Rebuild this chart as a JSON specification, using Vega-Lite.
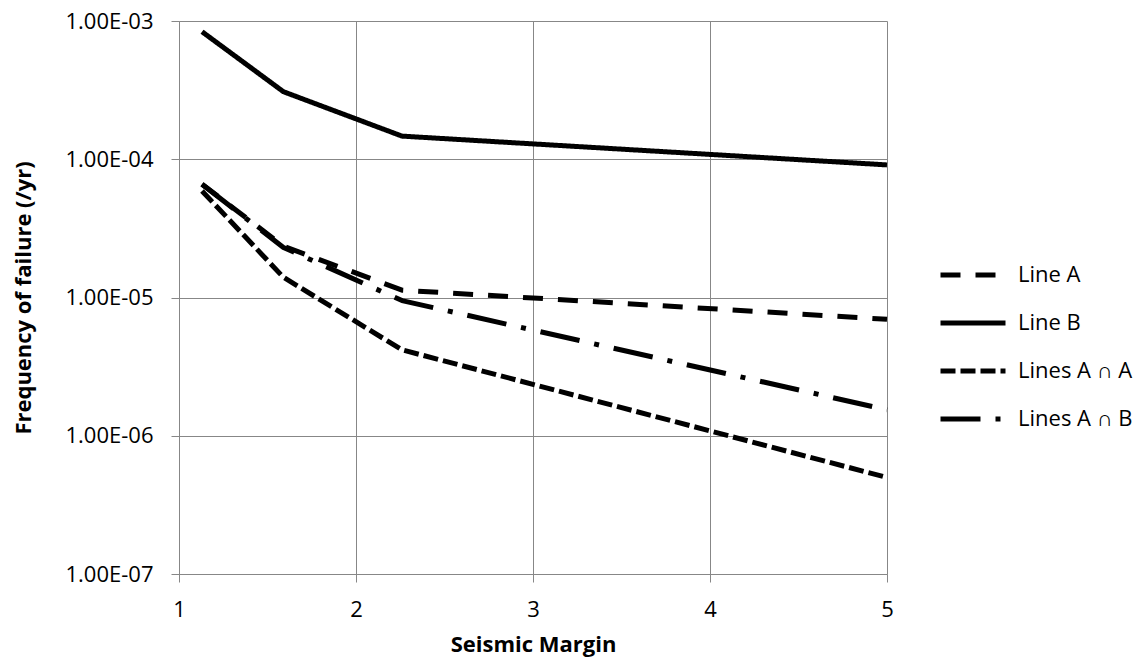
{
  "$schema": "https://vega.github.io/schema/vega-lite/v6.json",
  "width": 708,
  "height": 553,
  "autosize": {"type": "none"},
  "padding": {"left": 179, "top": 21, "right": 255, "bottom": 90},
  "background": "white",
  "config": {"view": {"stroke": null}, "font": "Open Sans"},
  "data": {
    "values": [
      {"series": "Line A", "margin": 1.13, "freq": 6.6e-5},
      {"series": "Line A", "margin": 1.59, "freq": 2.35e-5},
      {"series": "Line A", "margin": 2.26, "freq": 1.13e-5},
      {"series": "Line A", "margin": 5, "freq": 6.96e-6},
      {"series": "Line B", "margin": 1.13, "freq": 8.37e-4},
      {"series": "Line B", "margin": 1.59, "freq": 3.08e-4},
      {"series": "Line B", "margin": 2.26, "freq": 1.47e-4},
      {"series": "Line B", "margin": 5, "freq": 9.1e-5},
      {"series": "Lines A ∩ A", "margin": 1.13, "freq": 5.9e-5},
      {"series": "Lines A ∩ A", "margin": 1.59, "freq": 1.4e-5},
      {"series": "Lines A ∩ A", "margin": 2.26, "freq": 4.18e-6},
      {"series": "Lines A ∩ A", "margin": 5, "freq": 4.99e-7},
      {"series": "Lines A ∩ B", "margin": 1.13, "freq": 6.6e-5},
      {"series": "Lines A ∩ B", "margin": 1.59, "freq": 2.3e-5},
      {"series": "Lines A ∩ B", "margin": 2.26, "freq": 9.5e-6},
      {"series": "Lines A ∩ B", "margin": 5, "freq": 1.54e-6}
    ]
  },
  "mark": {"type": "line", "strokeWidth": 5, "color": "black", "strokeCap": "butt", "strokeJoin": "round"},
  "encoding": {
    "x": {
      "field": "margin",
      "type": "quantitative",
      "scale": {"domain": [1, 5], "nice": false, "zero": false},
      "axis": {
        "values": [1, 2, 3, 4, 5],
        "format": "d",
        "title": "Seismic Margin",
        "titleFont": "Open Sans",
        "titleFontSize": 22,
        "titleFontWeight": "bold",
        "titleColor": "black",
        "titleX": 354,
        "titleY": 70,
        "titleAlign": "center",
        "titleBaseline": "middle",
        "labelFont": "Open Sans",
        "labelFontSize": 22,
        "labelColor": "black",
        "labelPadding": 17,
        "labelFlush": false,
        "labelOverlap": false,
        "tickSize": 8,
        "tickColor": "#878787",
        "domainColor": "#878787",
        "grid": true,
        "gridColor": "#878787",
        "gridOpacity": 1
      }
    },
    "y": {
      "field": "freq",
      "type": "quantitative",
      "scale": {"type": "log", "domain": [1e-7, 1e-3], "nice": false},
      "axis": {
        "values": [1e-7, 1e-6, 1e-5, 1e-4, 1e-3],
        "labelExpr": "'1.00E-0' + toString(-round(log(datum.value)/LN10))",
        "title": "Frequency of failure (/yr)",
        "titleFont": "Open Sans",
        "titleFontSize": 22,
        "titleFontWeight": "bold",
        "titleColor": "black",
        "titleX": -156,
        "titleY": 276.5,
        "titleAngle": -90,
        "titleAlign": "center",
        "titleBaseline": "middle",
        "labelFont": "Open Sans",
        "labelFontSize": 22,
        "labelColor": "black",
        "labelPadding": 18,
        "labelFlush": false,
        "labelOverlap": false,
        "tickSize": 8,
        "tickColor": "#878787",
        "domainColor": "#878787",
        "grid": true,
        "gridColor": "#878787",
        "gridOpacity": 1
      }
    },
    "strokeDash": {
      "field": "series",
      "type": "nominal",
      "scale": {
        "domain": ["Line A", "Line B", "Lines A ∩ A", "Lines A ∩ B"],
        "range": [[20, 15], [1, 0], [15, 5], [40, 15, 5, 15]]
      },
      "legend": {
        "title": null,
        "orient": "none",
        "legendX": 759,
        "legendY": 242,
        "padding": 0,
        "symbolType": "stroke",
        "symbolSize": 4225,
        "symbolStrokeWidth": 5,
        "symbolStrokeColor": "black",
        "clipHeight": 24,
        "rowPadding": 24,
        "labelFont": "Open Sans",
        "labelFontSize": 22,
        "labelColor": "black",
        "labelOffset": 10,
        "labelLimit": 300
      }
    }
  }
}
